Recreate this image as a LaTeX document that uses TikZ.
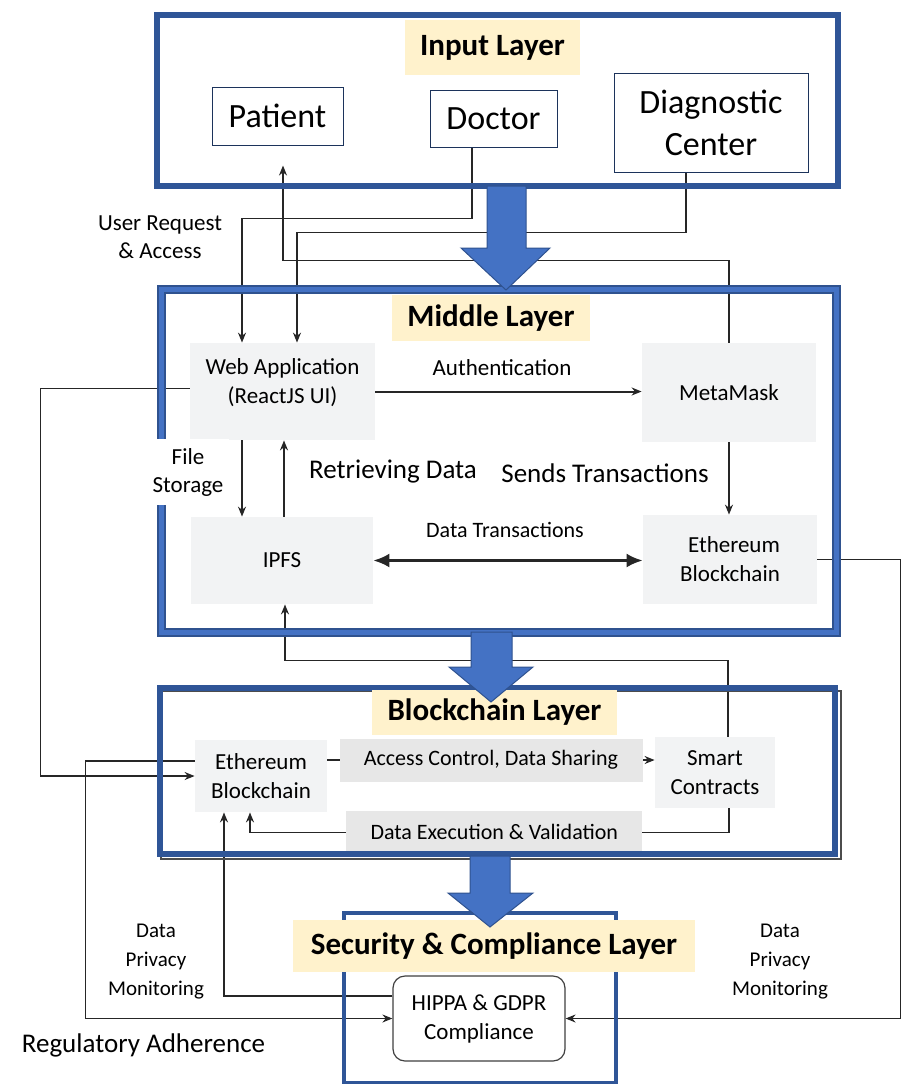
\documentclass[tikz,border=0pt]{standalone}
\usepackage{fontspec}
\setmainfont{Carlito}
\usetikzlibrary{arrows.meta}
\definecolor{frameblue}{HTML}{2F5597}
\definecolor{arrowblue}{HTML}{4472C4}
\definecolor{arrowedge}{HTML}{2F528F}
\definecolor{titleyellow}{HTML}{FFF2CC}
\definecolor{boxgray}{HTML}{F2F3F4}
\definecolor{labelgray}{HTML}{E7E7E7}
\begin{document}
\begin{tikzpicture}[x=0.5pt,y=-0.5pt,
    layertitle/.style={fill=titleyellow,font=\fontsize{15.5pt}{18pt}\selectfont\bfseries,inner sep=0pt},
    actor/.style={draw=frameblue!60!black,line width=0.5pt,font=\fontsize{17pt}{21pt}\selectfont,align=center,inner sep=0pt},
    module/.style={fill=boxgray,font=\fontsize{11.5pt}{14.5pt}\selectfont,align=center,inner sep=0pt},
    tag/.style={fill=labelgray,font=\fontsize{11pt}{13pt}\selectfont,inner sep=0pt,minimum height=21.5pt},
    note/.style={font=\fontsize{11.5pt}{14pt}\selectfont,align=center,inner sep=1pt},
    conn/.style={draw=black!85,line width=0.7pt,-{Stealth[length=5pt,width=4pt]}},
    layerframe/.style={draw=frameblue,line width=3pt},
    bigarrow/.style={fill=arrowblue,draw=arrowedge,line width=0.5pt}]
    \useasboundingbox (0,0) rectangle (904,1084);
    % boxes
    \node[actor,minimum width=65.5pt,minimum height=29pt] (patient) at (277.5,116) {Patient};
    \node[actor,minimum width=63.5pt,minimum height=28.5pt] (doctor) at (493.5,118.5) {Doctor};
    \node[actor,minimum width=97pt,minimum height=49.5pt] (diag) at (711,122.5) {Diagnostic\\Center};
    \node[module,minimum width=92.5pt,minimum height=48.5pt] (webapp) at (282.5,391.5)
        {\raisebox{4pt}[\height][\depth]{\begin{tabular}{@{}c@{}}Web Application\\(ReactJS UI)\end{tabular}}};
    \node[module,minimum width=87pt,minimum height=49.5pt] (metamask) at (729,392.5) {MetaMask};
    \node[module,minimum width=91pt,minimum height=43.5pt] (ipfs) at (282,560.5) {IPFS};
    \node[module,minimum width=87pt,minimum height=44.5pt] (ethmid) at (730,559.5) {\hspace*{4pt}Ethereum\\Blockchain};
    \node[module,minimum width=66pt,minimum height=36pt] (ethbc) at (261,776) {Ethereum\\Blockchain};
    \node[module,minimum width=60pt,minimum height=35.5pt] (smart) at (715,772.5) {Smart\\Contracts};
    \node[module,fill=white,draw=black!75,line width=0.6pt,rounded corners=6pt,minimum width=86pt,minimum height=42.5pt] (hippa) at (479,1018.5) {HIPPA \& GDPR\\Compliance};
    % labels
    \node[note] (authL) at (502,368) {Authentication};
    \node[note,font=\fontsize{13.5pt}{16pt}\selectfont] (sendL) at (605,473) {Sends Transactions};
    \node[note,font=\fontsize{13.5pt}{16pt}\selectfont] (retrL) at (393,472) {Retrieving Data};
    \node[note,font=\fontsize{11pt}{13pt}\selectfont] (dtL) at (505,530) {Data Transactions};
    \node[note] (userL) at (160,237) {User Request\\\& Access};
    \node[note,font=\fontsize{10.5pt}{14.5pt}\selectfont] (privL) at (156,962) {Data\\Privacy\\Monitoring};
    \node[note,font=\fontsize{10.5pt}{14.5pt}\selectfont] (privR) at (780,962) {Data\\Privacy\\Monitoring};
    \node[note,font=\fontsize{13.5pt}{16pt}\selectfont] (regL) at (143.5,1045) {Regulatory Adherence};
    % connectors
    \draw[conn] ([xshift=-10.75pt]doctor.south) -- ++(0,71) -| ([xshift=-20.25pt]webapp.north);
    \draw[conn] ([xshift=-12.5pt]diag.south) -- ++(0,60) -| ([xshift=7.25pt]webapp.north);
    \draw[conn,shorten >=10pt] (metamask.north) -- ++(0,-82) -| ([xshift=2.75pt]patient.south);
    \draw[conn,line width=1pt] (webapp.east) -- (webapp.east -| metamask.west);
    \draw[conn] (metamask.south) -- (metamask.south |- ethmid.north);
    \draw[conn] ([xshift=-20.25pt]webapp.south) -- ([xshift=-20.25pt]webapp.south |- ipfs.north);
    \draw[conn] ([xshift=1pt]ipfs.north) -- ([xshift=1pt]ipfs.north |- webapp.south);
    \draw[black!85,line width=1.25pt,{Latex[length=8pt,width=7pt]}-{Latex[length=8pt,width=7pt]}] (ipfs.east) -- (ipfs.east -| ethmid.west);
    \draw[conn] ([yshift=1.5pt]webapp.west) -- ++(-149,0) |- (ethbc.west);
    \draw[conn] ([xshift=6.5pt]smart.north) -- ++(0,-76) -| ([xshift=1.5pt]ipfs.south);
    \draw[conn] ([yshift=8pt]ethbc.east) -- ([yshift=8pt]ethbc.east -| smart.west)
        node[tag,midway,minimum width=151.5pt] (accessL) {Access Control, Data Sharing};
    \draw[conn] ([xshift=7pt]smart.south) -- ++(0,24) -| ([xshift=-5.5pt]ethbc.south)
        node[tag,pos=0.245,minimum width=148pt] (execL) {Data Execution \& Validation};
    \draw[conn] ([yshift=7.5pt]ethbc.west) -- ++(-109,0) |- (hippa.west);
    \draw[conn] ([yshift=11.25pt]hippa.west) -| ([xshift=-18.5pt]ethbc.south);
    \draw[conn] (ethmid.east) -- ++(83,0) |- (hippa.east);
    % layer frames
    \draw[layerframe] (156.5,15) rectangle (838,186);
    \draw[arrowedge,line width=4.5pt] (161,289) rectangle (836,632);
    \draw[arrowblue,line width=2.5pt] (161,289) rectangle (836,632);
    \draw[black!70,line width=0.8pt] (161,691) rectangle (841,859);
    \draw[layerframe] (160,688) rectangle (835,854);
    \draw[frameblue,line width=1.8pt] (344,913) rectangle (616,1083);
    \node[note,fill=white,minimum height=33pt,inner xsep=3pt] (fileL) at (188,472) {File\\Storage};
    % titles
    \node[layertitle,minimum width=87.5pt,minimum height=27.5pt] (inputT) at (492.5,47.5) {Input Layer};
    \node[layertitle,minimum width=99pt,minimum height=23pt] (midT) at (491,318) {Middle Layer};
    \node[layertitle,minimum width=122.5pt,minimum height=22.5pt] (bcT) at (494.5,712.5) {Blockchain Layer};
    \node[layertitle,minimum width=201pt,minimum height=26pt] (secT) at (494,946) {Security \& Compliance Layer};
    % big arrows between layers
    \draw[bigarrow] (487,186) -- (526,186) -- (526,248) -- (550,248) -- (506,290) -- (461,248) -- (487,248) -- cycle;
    \draw[bigarrow] (471,632) -- (512,632) -- (512,667) -- (533,667) -- (491,702) -- (449,667) -- (471,667) -- cycle;
    \draw[bigarrow] (470,856) -- (510,856) -- (510,893) -- (533,893) -- (490,927) -- (448,893) -- (470,893) -- cycle;
\end{tikzpicture}
\end{document}
